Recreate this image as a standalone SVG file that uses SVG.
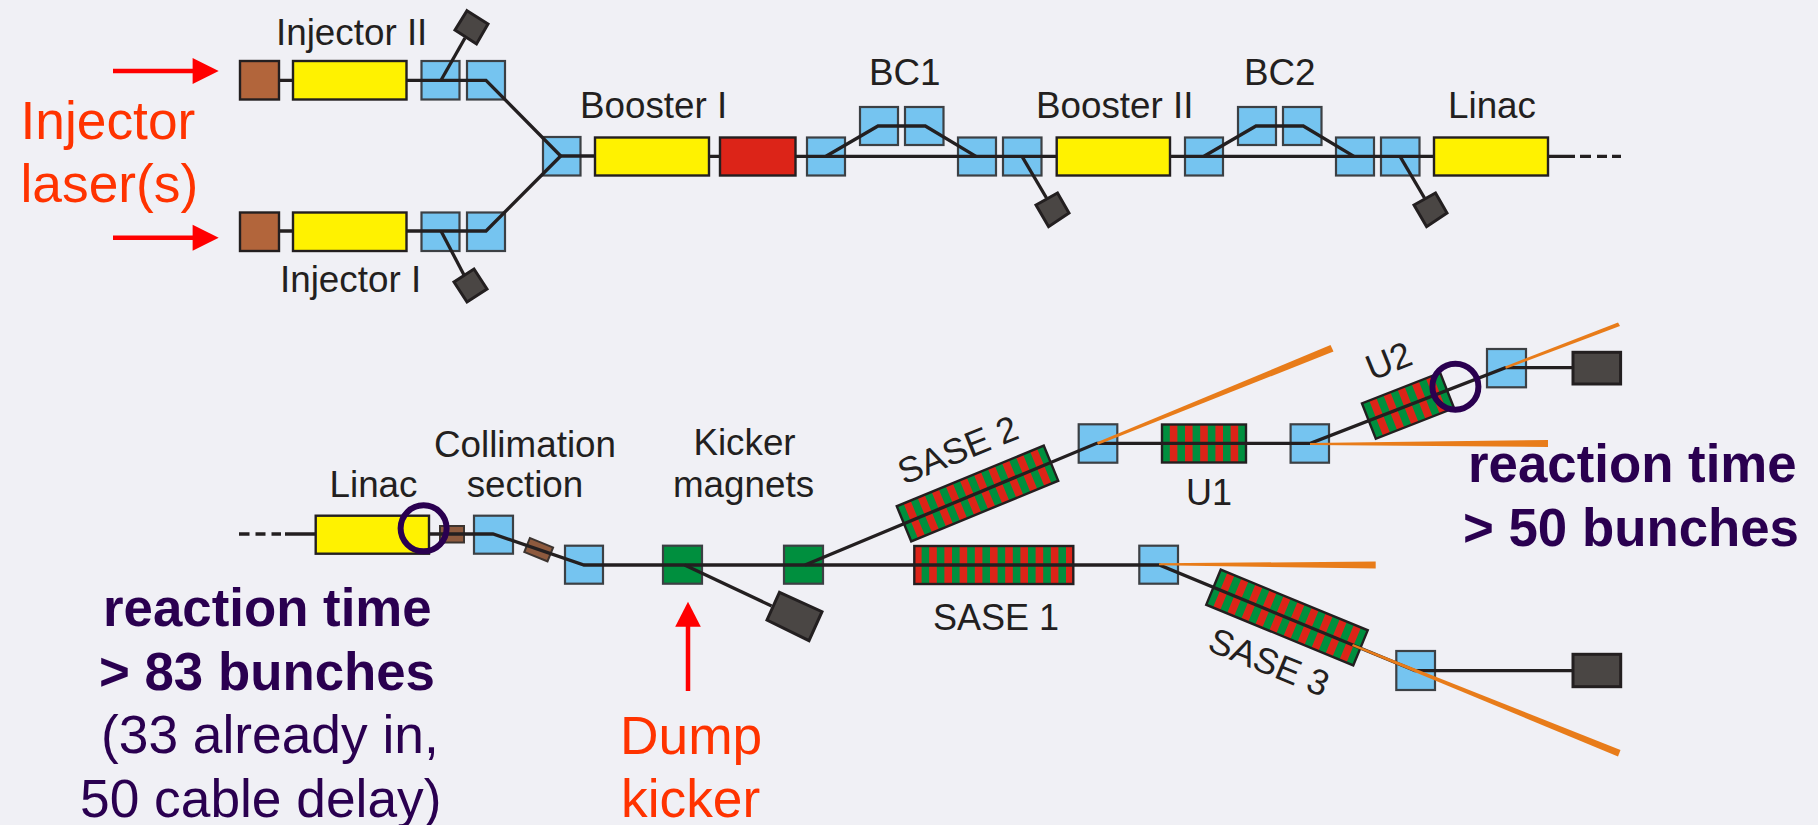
<svg xmlns="http://www.w3.org/2000/svg" width="1818" height="825" viewBox="0 0 1818 825">
<style>
text{font-family:"Liberation Sans",Arial,sans-serif}
.l{font-size:36.800px;fill:#231f20}
.s{font-size:36px;fill:#231f20}
.r{font-size:53.300px;fill:#ff3300}
.p{font-size:53.300px;fill:#2a0050}
.b{font-weight:bold;font-size:52.800px}
.m{text-anchor:middle}
.box{stroke:#231f20;stroke-width:2.4}
.bl{fill:#75c4f0;stroke:#3c4044;stroke-width:2.2}
.ye{fill:#fff200}
.br{fill:#b2653b}
.re{fill:#dc2418}
.gr{fill:#008f3e;stroke:#3c4044;stroke-width:2.2}
.du{fill:#4a4644;stroke:#231f20;stroke-width:3}
.bs{fill:#8e5a3e;stroke:#3c3430;stroke-width:2}
.st{fill:url(#stripes);stroke:#231f20;stroke-width:2.4}
.sa{fill:url(#stripesAlt);stroke:#231f20;stroke-width:2.4}
.c{fill:none;stroke:#231f20;stroke-width:3.3;stroke-linejoin:miter}
.arr{stroke:#ff0000;stroke-width:4.5;fill:none}
.ah{fill:#ff0000}
.or{fill:#e87c1a}
.ring{fill:none;stroke:#2a0050;stroke-width:6}
</style>
<defs>
<pattern id="stripes" patternUnits="userSpaceOnUse" width="15.2" height="10" x="-3.8" y="0">
<rect width="7.6" height="10" fill="#dc2418"/>
<rect x="7.6" width="7.6" height="10" fill="#008f3e"/>
</pattern>
<pattern id="stripesAlt" patternUnits="userSpaceOnUse" width="15.2" height="10" x="3.8" y="0">
<rect width="7.6" height="10" fill="#dc2418"/>
<rect x="7.6" width="7.6" height="10" fill="#008f3e"/>
</pattern>
</defs>
<rect width="1818" height="825" fill="#f0f0f5"/>

<g id="n-brown-2"><rect class="box br" x="240" y="61" width="39" height="38.5"/></g>
<g id="n-injector-2"><rect class="box ye" x="293" y="61" width="113.500" height="38.5"/><text class="l" x="276" y="45">Injector II</text></g>
<g id="n-blue-2a"><rect class="bl" x="421.500" y="61" width="38" height="38.500"/></g>
<g id="n-blue-2b"><rect class="bl" x="467" y="61" width="38" height="38.500"/></g>
<g id="n-dump-2"><polygon class="du" points="467,10.700 488,24 476.500,44 455,30"/></g>
<g id="n-brown-1"><rect class="box br" x="240" y="212.500" width="39" height="38.500"/></g>
<g id="n-injector-1"><rect class="box ye" x="293" y="212.500" width="113.500" height="38.500"/><text class="l" x="280" y="291.500">Injector I</text></g>
<g id="n-blue-1a"><rect class="bl" x="421.500" y="212.500" width="38" height="38.500"/></g>
<g id="n-blue-1b"><rect class="bl" x="467" y="212.500" width="38" height="38.500"/></g>
<g id="n-dump-1"><polygon class="du" points="474,269 487,289 467,302 454,282"/></g>
<g id="n-junction"><rect class="bl" x="543" y="137" width="37.500" height="38.500"/></g>
<g id="n-booster-1"><rect class="box ye" x="595" y="137.500" width="114" height="38"/><text class="l" x="580" y="118">Booster I</text></g>
<g id="n-red"><rect class="box re" x="720" y="137.500" width="75.500" height="38"/></g>
<g id="n-bc1-a"><rect class="bl" x="807" y="137.500" width="38" height="38"/></g>
<g id="n-bc1-b"><rect class="bl" x="860" y="107" width="38" height="38"/></g>
<g id="n-bc1-c"><rect class="bl" x="905" y="107" width="38.500" height="38"/><text class="l" x="869" y="85">BC1</text></g>
<g id="n-bc1-d"><rect class="bl" x="958" y="137.500" width="38" height="38"/></g>
<g id="n-bc1-e"><rect class="bl" x="1003" y="137.500" width="38.500" height="38"/></g>
<g id="n-dump-b1"><polygon class="du" points="1057.500,193 1069,213 1048.600,226.700 1036,205"/></g>
<g id="n-booster-2"><rect class="box ye" x="1056.700" y="137.500" width="113.300" height="38"/><text class="l" x="1036" y="118">Booster II</text></g>
<g id="n-bc2-a"><rect class="bl" x="1185" y="137.500" width="38" height="38"/></g>
<g id="n-bc2-b"><rect class="bl" x="1238" y="107" width="38" height="38"/></g>
<g id="n-bc2-c"><rect class="bl" x="1283" y="107" width="38.500" height="38"/><text class="l" x="1244" y="85">BC2</text></g>
<g id="n-bc2-d"><rect class="bl" x="1336" y="137.500" width="38" height="38"/></g>
<g id="n-bc2-e"><rect class="bl" x="1381" y="137.500" width="38.500" height="38"/></g>
<g id="n-dump-b2"><polygon class="du" points="1435.500,193 1447,213 1426.600,226.700 1414,205"/></g>
<g id="n-linac-top"><rect class="box ye" x="1434" y="137.500" width="114" height="38"/><text class="l" x="1448" y="118">Linac</text></g>

<g id="n-linac"><rect class="box ye" x="315.700" y="515.700" width="113.300" height="38"/><text class="l" x="329.500" y="497">Linac</text></g>
<g id="n-coll-a"><rect class="bs" x="440" y="526" width="24" height="16.500"/></g>
<g id="n-coll-b"><rect class="bl" x="474" y="515.700" width="39" height="38"/><text class="l m" x="525" y="457">Collimation</text><text class="l m" x="525" y="497">section</text></g>
<g id="n-coll-c"><rect class="bs" x="-12.500" y="-7.500" width="25" height="15" transform="translate(538.700 549.700) rotate(22)"/></g>
<g id="n-coll-d"><rect class="bl" x="565" y="545.700" width="38" height="38"/></g>
<g id="n-kick-a"><rect class="gr" x="663" y="545.700" width="39" height="38"/><text class="l m" x="744.500" y="455">Kicker</text><text class="l m" x="743.500" y="497">magnets</text></g>
<g id="n-kick-b"><rect class="gr" x="784" y="545.700" width="39" height="38"/></g>
<g id="n-dump-k"><polygon class="du" points="779.500,592.300 822,611.700 809,640.700 767,620"/></g>
<g id="n-sase1"><rect class="st" x="-79.500" y="-19" width="159" height="38" transform="translate(993.800 565)"/><text class="s" x="933" y="630">SASE 1</text></g>
<g id="n-sase1-bl"><rect class="bl" x="1139.300" y="545.700" width="38.700" height="38"/></g>
<g id="n-sase2"><rect class="sa" x="-79.500" y="-19" width="159" height="38" transform="translate(977.500 493.500) rotate(-22.400)"/><text class="s" x="904" y="485" transform="rotate(-22 904 485)">SASE 2</text></g>
<g id="n-sase2-bl"><rect class="bl" x="1078.700" y="424.300" width="38.600" height="38.400"/></g>
<g id="n-u1"><rect class="st" x="-42" y="-19" width="84" height="38" transform="translate(1204 443.500)"/><text class="s" x="1186" y="505">U1</text></g>
<g id="n-u1-bl"><rect class="bl" x="1290.600" y="424.300" width="38.400" height="38.400"/></g>
<g id="n-u2"><rect class="st" x="-42" y="-19" width="84" height="38" transform="translate(1408 405.800) rotate(-21.400)"/><text class="s" x="1372" y="381" transform="rotate(-22 1372 381)">U2</text></g>
<g id="n-u2-bl"><rect class="bl" x="1487" y="349" width="39" height="38.300"/></g>
<g id="n-dump-u"><rect class="du" x="1573" y="352.300" width="47.600" height="31.700"/></g>
<g id="n-sase3"><rect class="sa" x="-79.500" y="-19" width="159" height="38" transform="translate(1287 617.500) rotate(22.400)"/><text class="s" x="1206" y="650" transform="rotate(22 1206 650)">SASE 3</text></g>
<g id="n-sase3-bl"><rect class="bl" x="1396.300" y="651" width="38.700" height="39"/></g>
<g id="n-dump-s"><rect class="du" x="1573" y="654.300" width="47.700" height="32.400"/></g>

<g id="connectors">
<path class="c" d="M279 80.300H293M406.500 80.300H486L560.700 156"/>
<path class="c" d="M441 80.300L465 38"/>
<path class="c" d="M279 231H293M406.500 231H486L560.700 156"/>
<path class="c" d="M441 231L464 275"/>
<path class="c" d="M560.700 156H595M709 156.300H720M795.500 156.300H1056.700M1170 156.300H1434"/>
<path class="c" d="M826 156.300L878 126H925.300L976 156.300"/>
<path class="c" d="M1204 156.300L1256 126H1303.300L1354 156.300"/>
<path class="c" d="M1022 156.300L1046.500 198"/>
<path class="c" d="M1400 156.300L1424.500 198"/>
<path class="c" d="M1548 156.300H1575M1580 156.300H1591M1597 156.300H1607M1612 156.300H1621"/>
<path class="c" d="M239 534H249.500M255.500 534H265.500M271.500 534H281M285 534H315.700M429 534H493L584 565H1159.300L1415 670.700H1573"/>
<path class="c" d="M684.600 565L771.600 606"/>
<path class="c" d="M805 565L1096.700 443.300H1310.400L1505.500 367.700H1573"/>
<polygon class="or" points="1310,443 1548,440 1548,447 1310,445"/>
<polygon class="or" points="1097,442.300 1330.500,345 1333.500,351.500 1098,444.700"/>
<polygon class="or" points="1505,366.500 1618,322.500 1620,326 1506,368.800"/>
<polygon class="or" points="1159,563.300 1375.700,561.500 1375.700,568.500 1159,565.300"/>
<polygon class="or" points="1353,644 1620.500,750 1618,756.500 1352,646"/>
<path class="arr" d="M113 71H195M113 237.700H195"/>
<polygon class="ah" points="218.700,71 192.600,58 192.600,84"/>
<polygon class="ah" points="218.700,237.700 192.600,224.700 192.600,250.700"/>
<path class="arr" d="M688 625V691"/>
<polygon class="ah" points="688,601.700 675.200,626.700 700.800,626.700"/>
<circle class="ring" cx="423.600" cy="528.300" r="23"/>
<circle class="ring" cx="1455.400" cy="386.700" r="23"/>
</g>

<g id="annotations">
<text class="r" x="20.500" y="138.500">Injector</text>
<text class="r" x="20.500" y="202">laser(s)</text>
<text class="r" x="620" y="753.500">Dump</text>
<text class="r" x="621" y="817">kicker</text>
<text class="p b" x="1468" y="482">reaction time</text>
<text class="p b" x="1463" y="546">&gt; 50 bunches</text>
<text class="p b" x="103" y="625.700">reaction time</text>
<text class="p b" x="99" y="689.700">&gt; 83 bunches</text>
<text class="p" x="101" y="753">(33 already in,</text>
<text class="p" x="80" y="817">50 cable delay)</text>
</g>
</svg>
